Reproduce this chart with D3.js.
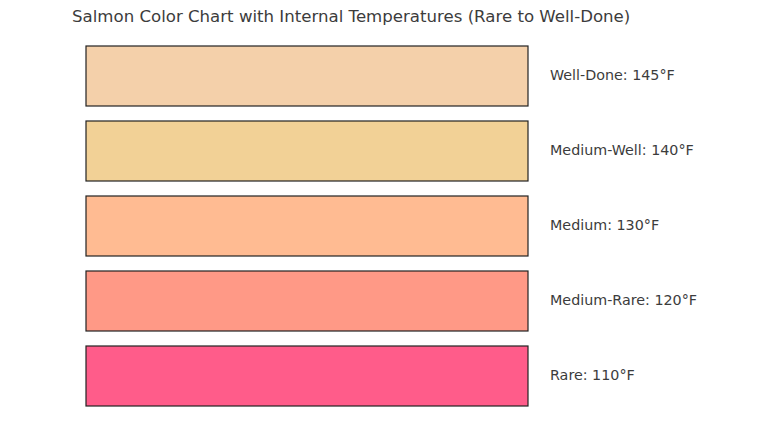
<!DOCTYPE html>
<html>
<head>
<meta charset="utf-8">
<script src="https://cdn.jsdelivr.net/npm/d3@7"></script>
<style>
  body { margin: 0; background: #fff; }
  text { font-family: "DejaVu Sans", sans-serif; fill: #3c3c3c; }
</style>
</head>
<body>
<svg id="chart" width="768" height="432"></svg>
<script>
// Doneness levels, top to bottom
const levels = ["Well-Done", "Medium-Well", "Medium", "Medium-Rare", "Rare"];
const temps = [145, 140, 130, 120, 110];
const colors = ["#F4D0AA", "#F2D196", "#FFBB92", "#FF9986", "#FF5C8A"];

const width = 768;
const height = 432;

const svg = d3.select("#chart");

// Title
svg.append("text")
  .attr("x", 72)
  .attr("y", 22)
  .attr("font-size", 16.6)
  .text("Salmon Color Chart with Internal Temperatures (Rare to Well-Done)");

// Scales
const xScale = d3.scaleLinear()
  .domain([0, 1])
  .range([86, 528]);

const yScale = d3.scaleBand()
  .domain(levels)
  .range([38.5, 413.5])
  .paddingInner(0.2)
  .paddingOuter(0.1);

const rows = levels.map((l, i) => ({level: l, temp: temps[i], color: colors[i]}));

// Colour swatches
svg.selectAll("rect.swatch")
  .data(rows)
  .enter()
  .append("rect")
  .attr("class", "swatch")
  .attr("x", xScale(0))
  .attr("y", d => yScale(d.level))
  .attr("width", xScale(1) - xScale(0))
  .attr("height", yScale.bandwidth())
  .attr("fill", d => d.color)
  .attr("stroke", "#222")
  .attr("stroke-width", 1.2);

// Labels
svg.selectAll("text.label")
  .data(rows)
  .enter()
  .append("text")
  .attr("class", "label")
  .attr("x", xScale(1) + 22)
  .attr("y", d => yScale(d.level) + yScale.bandwidth() / 2 - 0.8)
  .attr("dy", "0.35em")
  .attr("font-size", 14.3)
  .text(d => `${d.level}: ${d.temp}°F`);
</script>
</body>
</html>
